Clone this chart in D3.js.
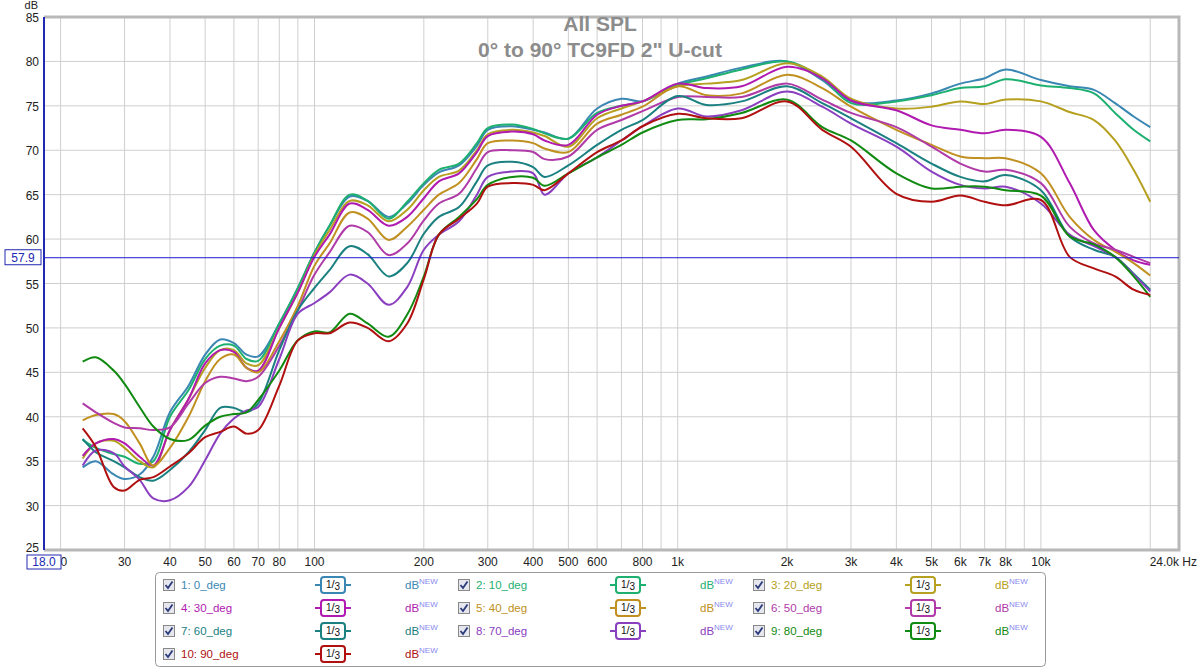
<!DOCTYPE html>
<html><head><meta charset="utf-8">
<script src="https://cdn.jsdelivr.net/npm/d3@7"></script>
<style>body{margin:0;background:#fff}svg{font-family:"Liberation Sans",Arial,sans-serif}</style>
</head><body><svg id="c" width="1200" height="669"></svg>
<script>
const freqs=[23,25,28,30,33,36,40,45,50,55,60,65,70,80,90,100,110,125,140,160,180,200,220,250,280,300,350,400,430,500,600,700,800,1000,1200,1500,2000,2500,3000,4000,5000,6000,7000,8000,10000,12000,14000,16000,18000,20000];
const names=["1: 0_deg","2: 10_deg","3: 20_deg","4: 30_deg","5: 40_deg","6: 50_deg","7: 60_deg","8: 70_deg","9: 80_deg","10: 90_deg"];
const colors=["#3a87b3","#1db070","#b5a020","#b01ab0","#c09020","#b03aa8","#1a8080","#8a3ec0","#108a10","#b01010"];
const s0=[34.3,35,33.5,33,33.5,35.5,40.5,43.5,47,48.7,48.3,47,46.8,50.5,54.5,58.5,61.5,64.8,64.3,62.5,64,66.1,67.5,68.3,70.5,72.3,72.7,72.3,72,71.3,74.7,75.8,75.5,77.5,78.3,79.3,80,77.9,75.5,75.6,76.4,77.5,78.1,79.1,77.9,77.2,76.8,75.3,73.8,72.6];
const s10=[37.4,36.5,35.8,35.5,34.7,35,40,43,46.5,48,48,46.5,46.3,50.5,54.5,58.5,61.5,65,64.3,62.3,64.2,66.3,67.8,68.5,70.8,72.5,72.9,72.4,71.9,71.3,74.2,75,75.5,77.3,78.1,79.1,80,78.1,75.3,75.5,76.2,77,77.2,78,77.3,77,76.4,74.2,72.3,71];
const s20=[35.3,37,37.3,36.5,35,34.3,38.5,42,45.5,47.5,47.5,46,45.8,50,54,58.2,61,64.3,63.8,62,63.3,65.5,67,67.7,70,71.8,72.3,72,71.6,70.4,73.6,74.7,75.5,77.2,77.5,77.9,79.8,78.3,75.8,74.7,74.9,75.5,75.2,75.7,75.5,74.3,73.4,71.1,67.8,64.2];
const s30=[35.6,37,37.5,37,35.5,34.5,38.5,42,46,47.5,47.3,45.5,45.2,50,54,58,60.5,64,63.3,61.5,62.5,64.6,66.5,67.4,69.8,71.6,72.1,71.8,71.1,70.6,74,75,75.5,77.5,77,77.2,79.4,78.1,75.6,74.5,72.8,72.3,71.9,72.3,71.5,66.3,61,58.8,57.6,57.1];
const s40=[39.6,40.2,40.3,39.5,37,34.5,36.5,40,44,46.5,47,45.5,45,48.5,52.5,57,59.5,63,62.3,59.9,61.4,63.3,65,66.3,69,70.8,71.1,70.8,70.2,69.8,73,74,74.9,77.2,76.2,76.4,78.5,77,74.9,72.3,70.6,69.3,69.1,69.1,67.4,62.5,59.9,58.6,57.3,55.9];
const s50=[41.5,40.5,39.3,38.8,38.7,38.5,38.8,41.5,43.8,44.5,44.3,44,44.5,48,52,56,58.5,61.5,60.8,58.2,59.5,62.1,64,65.1,68,69.8,70,69.8,69,69.3,72.3,73.4,74.4,76,76,76,77.5,75.7,74.2,72.6,70.4,68.5,67.6,67.8,66.3,61.4,59.5,58.8,58,57.3];
const s60=[37.5,36,35,34.3,33.2,32.8,34,36,38.5,41,41,40.5,41.5,47.5,52,54.5,56.5,59.2,58.3,55.8,57.3,60.6,62.5,63.6,66.5,68.3,68.7,68.1,67,68.3,70.6,72.3,73.4,76.1,75.1,75.5,77.2,75.3,73.6,70.8,68.5,67,66.5,67.2,65.5,60.3,58.8,58,56.1,54.3];
const s70=[34.5,36.2,35.9,34.4,32.9,30.8,30.6,32.1,35.1,38.1,39.8,40.7,41.1,46.5,51.6,52.8,54,56,55,52.6,54.6,58.8,60.5,62,65,67,67.6,67.4,65,67.4,69.2,71.1,72.7,74.7,73.8,74.5,76.6,74.9,73,70.4,67.6,66.1,65.7,65.9,64,60.5,59.2,58,56,54.1];
const s80=[46.2,46.7,45.2,43.7,41.1,38.9,37.5,37.4,39,40,40.3,40.5,41.9,45.2,48.6,49.6,49.5,51.6,50.5,49,51.5,55.8,60.5,62.5,64.5,66.1,67,66.9,66,67.4,69.2,70.6,72,73.4,73.5,74.2,75.7,72.6,71.1,67.4,65.7,65.9,65.9,65.5,64.9,60.3,59.4,58,55.8,53.5];
const s90=[38.7,36.6,32.1,31.7,32.9,33.2,34.4,35.9,37.7,38.3,38.9,38.1,38.5,43.5,48.6,49.4,49.4,50.6,50,48.5,50.5,55.5,60.5,62.3,64,65.9,66.3,66.1,65.5,67.4,69.8,71.1,72.7,74.1,73.6,73.6,75.5,72.3,70.4,65.1,64.2,64.9,64.2,63.8,64.4,58,56.7,55.8,54.3,53.7];
const series=[s0,s10,s20,s30,s40,s50,s60,s70,s80,s90];
const yTicks=[25,30,35,40,45,50,55,60,65,70,75,80,85];
const gridF=[20,30,40,50,60,70,80,90,100,200,300,400,500,600,700,800,900,1000,2000,3000,4000,5000,6000,7000,8000,9000,10000,20000];
const xLabels=[[20,"20"],[30,"30"],[40,"40"],[50,"50"],[60,"60"],[70,"70"],[80,"80"],[100,"100"],[200,"200"],[300,"300"],[400,"400"],[500,"500"],[600,"600"],[800,"800"],[1000,"1k"],[2000,"2k"],[3000,"3k"],[4000,"4k"],[5000,"5k"],[6000,"6k"],[7000,"7k"],[8000,"8k"],[10000,"10k"]];
const cursorDb=57.9;

const svg=d3.select("#c");
const L=44,R=1179,T=17,B=550;
const x=d3.scaleLog().domain([18,24000]).range([L,R]);
const y=d3.scaleLinear().domain([25,85]).range([B,T]);
const g=svg.append("g");
g.selectAll(".gx").data(gridF).join("line").attr("x1",d=>x(d)).attr("x2",d=>x(d)).attr("y1",T).attr("y2",B).attr("stroke","#cfcfcf");
g.selectAll(".gy").data(yTicks).join("line").attr("x1",L).attr("x2",R).attr("y1",d=>y(d)).attr("y2",d=>y(d)).attr("stroke","#cfcfcf");
svg.append("path").attr("d",`M${L},${T}H${R}V${B}H${L}`).attr("fill","none").attr("stroke","#b8b8b8").attr("stroke-width",3);
svg.append("line").attr("x1",L).attr("x2",L).attr("y1",T).attr("y2",B).attr("stroke","#2228b0").attr("stroke-width",2);
svg.append("text").attr("x",600).attr("y",31).attr("text-anchor","middle").attr("font-size",21).attr("font-weight","bold").attr("fill","#8c8c8c").text("All SPL");
svg.append("text").attr("x",600).attr("y",57).attr("text-anchor","middle").attr("font-size",21).attr("font-weight","bold").attr("fill","#8c8c8c").text("0° to 90° TC9FD 2\" U-cut");
svg.selectAll(".yl").data(yTicks).join("text").attr("x",39).attr("y",d=>y(d)+(d===25?2:5)).attr("text-anchor","end").attr("font-size",12).attr("fill","#222").text(d=>d);
svg.append("text").attr("x",38).attr("y",9).attr("text-anchor","end").attr("font-size",11).attr("fill","#222").text("dB");
svg.selectAll(".xl").data(xLabels).join("text").attr("x",d=>x(d[0])).attr("y",566).attr("text-anchor","middle").attr("font-size",12).attr("fill","#222").text(d=>d[1]);
svg.append("text").attr("x",1197).attr("y",566).attr("text-anchor","end").attr("font-size",12).attr("fill","#222").text("24.0k Hz");
svg.append("rect").attr("x",27).attr("y",555).attr("width",34).attr("height",14).attr("fill","#fff").attr("stroke","#2228b0");
svg.append("text").attr("x",44).attr("y",566).attr("text-anchor","middle").attr("font-size",12).attr("fill","#2228b0").text("18.0");
const line=d3.line().x((d,i)=>x(freqs[i])).y(d=>y(d)).curve(d3.curveCatmullRom.alpha(0.5));
svg.append("g").selectAll("path").data(series).join("path").attr("d",line).attr("fill","none").attr("stroke",(d,i)=>colors[i]).attr("stroke-width",2).attr("stroke-linejoin","round");
svg.append("line").attr("x1",L).attr("x2",R).attr("y1",y(cursorDb)).attr("y2",y(cursorDb)).attr("stroke","#1a1acc").attr("stroke-width",1);
svg.append("rect").attr("x",5).attr("y",y(cursorDb)-8).attr("width",36).attr("height",15).attr("fill","#fff").attr("stroke","#2228b0");
svg.append("text").attr("x",23).attr("y",y(cursorDb)+4).attr("text-anchor","middle").attr("font-size",12).attr("fill","#2228b0").text(cursorDb.toFixed(1));
svg.append("rect").attr("x",155.5).attr("y",572.5).attr("width",890).attr("height",94).attr("rx",4).attr("fill","#fff").attr("stroke","#999");
names.forEach((n,i)=>{
  const col=i%3,row=Math.floor(i/3);
  const bx=163+col*295,by=585+row*23;
  const c=colors[i];
  const gg=svg.append("g");
  gg.append("rect").attr("x",bx+0.5).attr("y",by-5.5).attr("width",11).attr("height",11).attr("fill","#e6e6ee").attr("stroke","#888");
  gg.append("path").attr("d",`M${bx+2.5},${by}L${bx+5},${by+3}L${bx+9.5},${by-3.5}`).attr("fill","none").attr("stroke","#2a3a7a").attr("stroke-width",1.8);
  gg.append("text").attr("x",bx+18).attr("y",by+4).attr("font-size",11.5).attr("fill",c).text(n);
  const ox=bx+152;
  gg.append("line").attr("x1",ox).attr("x2",ox+36).attr("y1",by).attr("y2",by).attr("stroke",c).attr("stroke-width",2);
  gg.append("rect").attr("x",ox+6).attr("y",by-8).attr("width",24).attr("height",16).attr("rx",3).attr("fill","#fff").attr("stroke",c).attr("stroke-width",2);
  const t=gg.append("text").attr("x",ox+18).attr("y",by+4).attr("text-anchor","middle").attr("font-size",11).attr("fill","#111");
  t.append("tspan").attr("font-size",10).attr("dy",-1).text("1");
  t.append("tspan").attr("dy",0).text("/");
  t.append("tspan").attr("font-size",10).attr("dy",2).text("3");
  const dt=gg.append("text").attr("x",bx+242).attr("y",by+4).attr("font-size",11.5).attr("fill",c);
  dt.append("tspan").text("dB");
  dt.append("tspan").attr("font-size",8).attr("dy",-5).attr("fill","#8888ee").text("NEW");
});
</script></body></html>
